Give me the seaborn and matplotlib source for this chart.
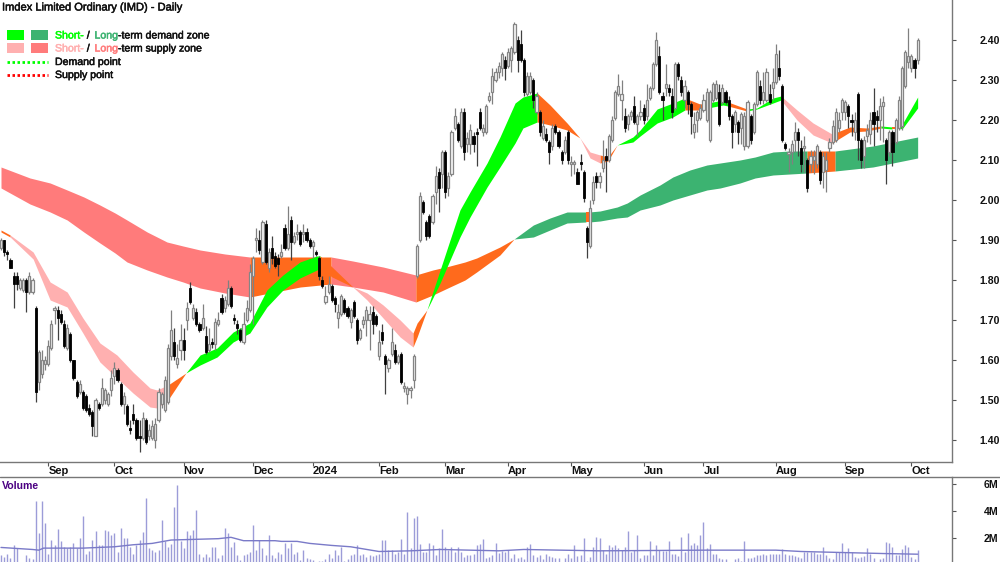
import numpy as np
import pandas as pd
import matplotlib
matplotlib.use("Agg")
import matplotlib.pyplot as plt
import matplotlib.patheffects as pe
from matplotlib.lines import Line2D
from matplotlib.patches import Rectangle
import seaborn as sns

month_labels = ["Sep", "Oct", "Nov", "Dec", "2024", "Feb", "Mar", "Apr", "May", "Jun", "Jul", "Aug", "Sep", "Oct"]
month_bars = [15, 36, 58, 80, 99, 120, 141, 161, 181, 204, 223, 246, 268, 289]
price_ticks = [1.40, 1.50, 1.60, 1.70, 1.80, 1.90, 2.00, 2.10, 2.20, 2.30, 2.40]
volume_ticks = [2, 4, 6]

opens = [1.88,1.90,1.87,1.85,1.81,1.81,1.78,1.775,1.80,1.77,
 1.77,1.73,1.545,1.565,1.59,1.59,1.63,1.725,1.725,1.715,
 1.69,1.63,1.665,1.60,1.545,1.52,1.52,1.51,1.48,1.47,
 1.41,1.49,1.49,1.50,1.49,1.525,1.56,1.575,1.54,1.49,
 1.485,1.43,1.465,1.45,1.41,1.405,1.45,1.41,1.405,1.40,
 1.45,1.49,1.475,1.495,1.61,1.645,1.59,1.625,1.65,1.70,
 1.78,1.705,1.72,1.69,1.68,1.66,1.625,1.645,1.64,1.69,
 1.755,1.73,1.74,1.78,1.705,1.69,1.675,1.645,1.70,1.725,
 1.81,1.90,1.90,1.845,1.94,1.83,1.88,1.86,1.855,1.86,
 1.93,1.88,1.95,1.895,1.915,1.92,1.915,1.92,1.90,1.885,
 1.87,1.855,1.80,1.745,1.77,1.785,1.755,1.705,1.715,1.75,
 1.73,1.695,1.745,1.70,1.655,1.69,1.70,1.70,1.72,1.71,
 1.61,1.67,1.61,1.58,1.615,1.625,1.595,1.615,1.53,1.515,
 1.525,1.55,1.81,1.90,1.995,1.945,1.96,1.945,2.02,2.07,
 2.065,2.12,2.03,2.065,2.18,2.19,2.135,2.22,2.14,2.14,
 2.16,2.17,2.22,2.17,2.17,2.25,2.27,2.30,2.32,2.33,
 2.35,2.335,2.35,2.37,2.40,2.39,2.35,2.265,2.27,2.30,
 2.22,2.22,2.155,2.165,2.145,2.135,2.185,2.17,2.12,2.12,
 2.17,2.09,2.09,2.07,2.095,2.07,1.93,1.885,2.00,2.06,
 2.045,2.08,2.11,2.10,2.15,2.205,2.265,2.25,2.21,2.19,
 2.21,2.235,2.19,2.21,2.23,2.21,2.255,2.28,2.34,2.36,
 2.26,2.28,2.28,2.26,2.23,2.34,2.30,2.25,2.27,2.24,
 2.17,2.20,2.205,2.225,2.20,2.15,2.25,2.255,2.27,2.245,
 2.27,2.25,2.21,2.19,2.195,2.18,2.135,2.135,2.21,2.17,
 2.24,2.285,2.25,2.25,2.265,2.28,2.295,2.33,2.285,2.14,
 2.115,2.12,2.15,2.17,2.13,2.13,2.10,2.09,2.10,2.09,
 2.12,2.07,2.075,2.13,2.145,2.15,2.18,2.22,2.22,2.235,
 2.20,2.17,2.265,2.15,2.11,2.16,2.165,2.22,2.21,2.20,
 2.235,2.15,2.12,2.17,2.145,2.18,2.185,2.285,2.345,2.33,2.35,2.35]
closes = [1.90,1.87,1.865,1.83,1.79,1.79,1.80,1.80,1.77,1.81,
 1.80,1.52,1.62,1.60,1.60,1.635,1.69,1.73,1.705,1.695,
 1.635,1.68,1.60,1.555,1.51,1.54,1.48,1.475,1.465,1.435,
 1.50,1.48,1.53,1.525,1.515,1.555,1.58,1.55,1.49,1.51,
 1.44,1.425,1.45,1.405,1.405,1.455,1.395,1.425,1.435,1.44,
 1.52,1.515,1.55,1.63,1.675,1.61,1.605,1.65,1.625,1.73,
 1.745,1.73,1.69,1.675,1.705,1.62,1.64,1.64,1.695,1.70,
 1.72,1.75,1.78,1.735,1.70,1.68,1.65,1.69,1.73,1.82,
 1.855,1.905,1.875,1.945,1.845,1.87,1.855,1.835,1.84,1.87,
 1.88,1.915,1.895,1.91,1.92,1.89,1.92,1.90,1.885,1.895,
 1.865,1.81,1.785,1.76,1.79,1.75,1.74,1.72,1.76,1.72,
 1.71,1.725,1.71,1.65,1.675,1.70,1.725,1.715,1.69,1.69,
 1.645,1.65,1.59,1.60,1.645,1.595,1.61,1.545,1.535,1.53,
 1.53,1.61,1.885,2.01,1.97,1.91,1.91,2.01,2.06,2.03,
 2.12,2.02,2.06,2.17,2.21,2.15,2.22,2.12,2.155,2.175,
 2.14,2.165,2.18,2.18,2.235,2.26,2.31,2.32,2.335,2.365,
 2.33,2.37,2.38,2.44,2.35,2.35,2.27,2.31,2.31,2.25,
 2.26,2.17,2.185,2.15,2.12,2.18,2.17,2.135,2.10,2.15,
 2.10,2.095,2.095,2.04,2.09,2.005,1.895,1.98,2.045,2.045,
 2.06,2.10,2.10,2.16,2.20,2.27,2.285,2.265,2.18,2.21,
 2.22,2.195,2.21,2.22,2.20,2.25,2.28,2.34,2.40,2.27,
 2.25,2.29,2.27,2.22,2.34,2.31,2.27,2.285,2.24,2.21,
 2.19,2.22,2.23,2.25,2.27,2.27,2.29,2.29,2.19,2.28,
 2.245,2.21,2.17,2.22,2.17,2.215,2.21,2.245,2.15,2.24,
 2.32,2.25,2.27,2.32,2.245,2.295,2.365,2.31,2.15,2.13,
 2.12,2.14,2.17,2.15,2.09,2.135,2.03,2.11,2.11,2.135,
 2.05,2.11,2.10,2.145,2.185,2.22,2.20,2.25,2.245,2.21,
 2.195,2.20,2.15,2.10,2.15,2.175,2.20,2.19,2.20,2.235,
 2.245,2.10,2.17,2.12,2.20,2.25,2.33,2.37,2.36,2.36,2.33,2.40]
highs = [1.905,1.90,1.875,1.855,1.82,1.82,1.805,1.805,1.805,1.82,
 1.805,1.735,1.625,1.625,1.61,1.65,1.70,1.735,1.735,1.725,
 1.70,1.69,1.67,1.60,1.55,1.55,1.525,1.515,1.49,1.475,
 1.505,1.495,1.555,1.53,1.52,1.575,1.595,1.58,1.545,1.52,
 1.49,1.45,1.49,1.455,1.45,1.47,1.455,1.44,1.45,1.455,
 1.53,1.52,1.56,1.64,1.725,1.68,1.64,1.69,1.68,1.745,
 1.795,1.74,1.73,1.695,1.74,1.685,1.68,1.655,1.705,1.72,
 1.765,1.76,1.80,1.785,1.715,1.70,1.68,1.72,1.75,1.84,
 1.86,1.93,1.925,1.95,1.95,1.88,1.91,1.87,1.865,1.89,
 1.94,1.985,1.96,1.92,1.94,1.925,1.94,1.93,1.905,1.90,
 1.875,1.86,1.81,1.785,1.81,1.79,1.76,1.74,1.765,1.755,
 1.735,1.73,1.75,1.705,1.68,1.71,1.735,1.735,1.735,1.715,
 1.675,1.69,1.615,1.605,1.68,1.64,1.615,1.62,1.545,1.535,
 1.535,1.615,1.89,2.02,2.00,1.95,1.965,2.015,2.085,2.08,
 2.125,2.125,2.07,2.175,2.23,2.195,2.23,2.23,2.17,2.19,
 2.17,2.18,2.23,2.19,2.24,2.27,2.33,2.33,2.345,2.37,
 2.36,2.38,2.385,2.445,2.41,2.425,2.355,2.32,2.32,2.305,
 2.27,2.225,2.20,2.18,2.15,2.19,2.19,2.175,2.125,2.16,
 2.175,2.11,2.10,2.08,2.115,2.075,1.935,2.00,2.06,2.07,
 2.07,2.15,2.13,2.165,2.21,2.275,2.315,2.30,2.23,2.215,
 2.225,2.26,2.215,2.25,2.24,2.29,2.285,2.345,2.42,2.385,
 2.27,2.34,2.29,2.28,2.345,2.345,2.31,2.30,2.275,2.245,
 2.22,2.225,2.24,2.265,2.28,2.275,2.295,2.30,2.29,2.29,
 2.275,2.26,2.215,2.225,2.20,2.22,2.22,2.25,2.215,2.245,
 2.325,2.30,2.32,2.33,2.29,2.33,2.39,2.375,2.29,2.145,
 2.13,2.15,2.195,2.18,2.15,2.16,2.105,2.125,2.125,2.14,
 2.125,2.12,2.12,2.155,2.20,2.23,2.22,2.255,2.25,2.24,
 2.215,2.22,2.27,2.155,2.16,2.19,2.22,2.28,2.225,2.255,
 2.26,2.155,2.175,2.175,2.205,2.26,2.335,2.375,2.43,2.365,2.355,2.405]
lows = [1.875,1.86,1.85,1.83,1.73,1.775,1.775,1.77,1.72,1.765,
 1.765,1.495,1.525,1.555,1.575,1.585,1.625,1.69,1.65,1.69,
 1.63,1.625,1.595,1.55,1.505,1.515,1.475,1.47,1.46,1.41,
 1.41,1.475,1.485,1.49,1.485,1.51,1.54,1.545,1.485,1.465,
 1.435,1.415,1.44,1.40,1.37,1.40,1.39,1.40,1.40,1.38,
 1.445,1.48,1.47,1.49,1.60,1.60,1.58,1.60,1.60,1.675,
 1.74,1.70,1.685,1.67,1.675,1.615,1.62,1.63,1.625,1.685,
 1.715,1.72,1.735,1.73,1.69,1.665,1.645,1.64,1.695,1.72,
 1.69,1.87,1.865,1.84,1.84,1.82,1.84,1.83,1.81,1.855,
 1.875,1.875,1.85,1.89,1.90,1.885,1.895,1.895,1.88,1.855,
 1.86,1.80,1.78,1.74,1.765,1.745,1.72,1.68,1.71,1.715,
 1.705,1.68,1.705,1.64,1.65,1.68,1.66,1.625,1.665,1.685,
 1.60,1.64,1.515,1.57,1.61,1.59,1.59,1.54,1.52,1.49,
 1.505,1.53,1.805,1.895,1.965,1.90,1.905,1.94,1.99,1.97,
 2.03,2.005,2.01,2.06,2.175,2.145,2.13,2.10,2.12,2.115,
 2.12,2.085,2.175,2.16,2.165,2.245,2.24,2.295,2.305,2.31,
 2.30,2.33,2.32,2.365,2.32,2.345,2.26,2.26,2.265,2.23,
 2.215,2.16,2.15,2.145,2.09,2.125,2.165,2.13,2.09,2.115,
 2.09,2.06,2.065,2.04,2.075,1.995,1.855,1.88,1.99,2.03,
 2.03,2.07,2.02,2.095,2.145,2.20,2.26,2.20,2.17,2.175,
 2.20,2.19,2.16,2.20,2.19,2.20,2.25,2.275,2.335,2.265,
 2.20,2.26,2.26,2.205,2.225,2.30,2.26,2.23,2.215,2.165,
 2.155,2.17,2.20,2.22,2.195,2.145,2.245,2.25,2.185,2.24,
 2.24,2.20,2.13,2.17,2.14,2.14,2.125,2.13,2.14,2.165,
 2.235,2.24,2.24,2.245,2.24,2.25,2.29,2.30,2.145,2.125,
 2.07,2.09,2.12,2.11,2.07,2.07,2.02,2.07,2.065,2.08,
 2.04,2.03,2.02,2.12,2.14,2.145,2.17,2.20,2.20,2.18,
 2.16,2.15,2.10,2.08,2.08,2.145,2.14,2.135,2.17,2.15,
 2.145,2.04,2.11,2.085,2.14,2.175,2.175,2.28,2.33,2.32,2.305,2.34]
volumes = [0.75,0.6,0.85,0.5,1.5,1.25,0.2,0.2,0.75,0.5,
 0.45,4.75,2.35,4.75,3.1,0.85,1.85,1.5,2.65,1.75,
 1.35,1.25,1.35,1.6,1.25,2.0,3.6,0.85,1.05,1.85,
 2.5,1.5,1.5,2.6,2.5,2.2,2.35,1.0,2.75,2.0,
 2.0,1.35,0.85,1.5,1.85,2.45,4.95,1.25,1.1,1.0,
 1.1,3.35,1.8,1.35,1.55,4.3,5.95,1.75,1.25,2.5,
 2.2,2.6,4.05,0.85,0.6,0.8,0.6,1.3,1.35,0.5,
 0.75,2.75,2.4,1.35,1.7,0.75,0.35,0.75,0.8,0.95,
 3.0,1.1,1.85,1.25,0.75,2.25,0.75,0.5,0.95,0.8,
 1.6,1.25,1.6,0.85,1.0,0.35,1.1,0.5,0.45,0.35,
 0.25,0.3,0.3,0.45,0.8,0.5,1.1,0.75,1.35,0.3,
 0.45,0.75,0.85,1.5,0.75,0.8,0.6,0.75,0.7,0.75,
 0.85,1.85,1.85,1.1,1.1,0.85,1.0,1.9,0.85,3.95,
 1.25,3.5,3.6,1.55,1.0,1.0,1.6,1.45,0.75,1.25,
 2.65,1.35,1.1,1.3,1.0,1.35,1.0,0.6,0.75,0.75,
 0.8,1.45,1.55,1.9,0.5,0.6,0.75,1.6,0.9,1.05,
 1.0,1.1,0.5,0.8,0.5,0.6,0.45,1.35,1.55,0.75,
 0.6,0.75,0.45,0.8,0.7,0.6,0.55,0.5,0.25,0.5,
 0.8,0.5,1.5,0.7,0.75,2.0,0.3,0.6,1.35,2.1,
 2.0,1.1,0.85,1.45,1.35,1.45,1.25,1.1,1.35,2.5,
 1.0,1.1,2.2,0.5,0.75,0.75,1.8,0.75,1.5,1.1,
 1.05,1.05,1.8,0.85,0.8,0.7,2.05,1.0,2.35,1.45,
 1.6,1.5,2.2,3.15,1.25,1.55,0.85,0.8,0.55,0.45,
 0.45,0.25,0.25,0.45,0.5,0.3,1.8,0.55,0.55,0.6,
 0.75,0.75,0.8,0.75,0.85,0.85,0.8,0.85,1.2,0.85,
 0.75,0.75,0.7,0.6,0.5,0.95,0.95,0.95,1.0,0.85,
 0.85,1.3,0.75,0.5,0.45,0.95,0.95,1.65,1.0,1.25,
 0.95,0.6,0.5,0.6,0.7,1.25,0.85,0.5,0.25,0.45,
 0.55,1.7,1.6,1.3,0.75,0.75,1.2,1.5,1.35,0.6,0.45,1.1]
volume_avg_bar = [0,10,12,13.5,26,36,42,48,54,69,73,77,87,89,94,98,105,111,120,130,139.5,158,
                  166,177.6,190,224,246,254,280,291]
volume_avg = [1.3,1.15,1.1,1.25,1.25,1.35,1.5,1.6,1.85,1.95,2.05,1.8,1.8,1.75,1.75,1.6,1.45,1.35,1.0,1.05,1.15,1.05,
              1.15,1.1,1.05,1.1,1.1,1.0,0.85,0.8]

long_bar = [0,9.2,15.6,21,26.3,31.4,36.2,40,46.4,52.7,57.8,63.2,71.1,79,87,95,104.8,111.7,121.3,131.7,137.1,142.5,147.3,151,158.4,162.9,
            169,174.3,179.7,185.7,186.7,190.2,195.6,198.8,202.9,209.2,213.3,218.7,224.1,228.3,234.6,239.4,245.1,250.5,255.9,264.8,276.8,291]
long_y_top = [167,178,183,190,197,205,213,220,232,242,246,250,254,257,257,257,257,261,267,275,270,266,262,258,247,239,
              225,218,212,212,212,211,207,203,195,185,177,170,165,163,160,157,152,151,151,151,146,137]
long_y_bottom = [188,204,212,220,232,243,253,262,270,277,282,288,293,297,292,287,284,287,292,302,295,287,280,272,255,239,
                 237,230,223,222,222,221,218,217,210,205,200,195,190,188,183,178,175,174,173,171,167,158]
long_top = [round(2.5 - v / 400, 4) for v in long_y_top]
long_bottom = [round(2.5 - v / 400, 4) for v in long_y_bottom]
long_states = [(0,79,"supply"),(79,104.8,"mixed"),(104.8,131.7,"supply"),(131.7,162.9,"mixed"),(162.9,185.7,"demand"),
               (185.7,186.7,"mixed"),(186.7,255.9,"demand"),(255.9,264.8,"mixed"),(264.8,291,"demand")]

short_bar = [0,2.9,10.2,15.6,21,26,31.4,36.8,41.9,47.3,49.5,53,58.7,63.2,68.6,73.7,79,84.4,89.5,94.9,100.3,101.3,105.1,
             111.7,116.2,121.3,126.7,130.8,132.1,135.2,139.4,145.7,148.9,154.3,158.4,163.2,165.7,170.2,174.3,179.7,183.8,
             187,190.2,192.7,195.6,200.6,202.9,208.3,213.3,217.1,221.9,224.4,229.2,230.8,236.8,240,245.1,247.6,252.7,
             257.8,263.8,269.5,274.9,279.4,282.9,285.4,286.3,291]
short_y_top = [230,235,252,282,292,318,343,355,372,388,390,385,373,355,348,332,323,290,275,262,256,256,267,
               287,293,305,320,333,323,310,270,210,192,163,137,103,97,93,105,123,138,
               152,155,157,145,137,130,109,103,98,104,103,100,102,109,108,98,96,110,
               123,134,127,128,126,127,127,123,97]
short_y_bottom = [232,237,259,300,307,333,362,378,393,407,408,400,373,365,357,342,333,307,290,278,270,268,277,
                  287,300,318,337,347,337,310,283,237,217,187,167,143,128,122,125,130,138,
                  158,163,161,145,142,136,123,117,110,110,108,105,106,111,109,103,100,120,
                  135,143,132,131,128,129,129,128,108]
short_top = [round(2.5 - v / 400, 4) for v in short_y_top]
short_bottom = [round(2.5 - v / 400, 4) for v in short_y_bottom]
short_states = [(0,2.9,"mixed"),(2.9,53,"supply"),(53,58.7,"mixed"),(58.7,101.3,"demand"),(101.3,111.7,"mixed"),
                (111.7,130.8,"supply"),(130.8,135.2,"mixed"),(135.2,170.2,"demand"),(170.2,183.8,"mixed"),
                (183.8,190.2,"supply"),(190.2,195.6,"mixed"),(195.6,217.1,"demand"),(217.1,224.4,"mixed"),
                (224.4,230.8,"demand"),(230.8,236.8,"mixed"),(236.8,247.6,"demand"),(247.6,263.8,"supply"),
                (263.8,279.4,"mixed"),(279.4,282.9,"demand"),(282.9,285.4,"mixed"),(285.4,291,"demand")]

n = min(len(opens), len(closes), len(highs), len(lows), len(volumes))

sns.set_theme(style="white")
FONT = "Liberation Sans"
plt.rcParams["font.family"] = FONT

ORANGE = "#ff6a1c"
LONG_COL = {"supply": "#ff7b7b", "demand": "#3cb371", "mixed": ORANGE}
SHORT_COL = {"supply": "#ffb0b0", "demand": "#00ff00", "mixed": ORANGE}

W, H = 1000, 562
fig = plt.figure(figsize=(W / 100, H / 100), dpi=100, facecolor="white")
ax = fig.add_axes([0, 1 - 462 / H, 952 / W, 462 / H])
axv = fig.add_axes([0, 0, 952 / W, 85 / H])

bars = pd.DataFrame({"bar": np.arange(n), "open": opens[:n], "close": closes[:n], "high": highs[:n], "low": lows[:n], "volume": volumes[:n]})
bars["up"] = bars["close"] >= bars["open"]

def draw_band(x, top, bottom, states, colors, z):
    x, top, bottom = np.array(x), np.array(top), np.array(bottom)
    for a, b, state in states:
        m = (x >= a) & (x <= b)
        ax.fill_between(x[m], bottom[m], top[m], color=colors[state], lw=0, zorder=z)

draw_band(long_bar, long_top, long_bottom, long_states, LONG_COL, 1)
draw_band(short_bar, short_top, short_bottom, short_states, SHORT_COL, 2)

up = bars[bars["up"]]
down = bars[~bars["up"]]
ax.vlines(up["bar"], up["low"], up["high"], color="#808080", lw=0.9, zorder=3)
ax.vlines(down["bar"], down["low"], down["high"], color="#404040", lw=0.9, zorder=3)
ax.bar(up["bar"], (up["close"] - up["open"]).clip(lower=0.004), bottom=up["open"], width=0.68,
       facecolor="#f4f4f4", edgecolor="#858585", linewidth=0.9, zorder=4)
ax.bar(down["bar"], (down["open"] - down["close"]).clip(lower=0.004), bottom=down["close"], width=0.68,
       facecolor="black", edgecolor="black", linewidth=0.6, zorder=4)

xlim = (-1 / 3.15, 951 / 3.15)
ax.set_xlim(*xlim)
ax.set_ylim(2.5 - 462 / 400, 2.5)
ax.yaxis.tick_right()
ax.set_yticks(price_ticks)
ax.set_yticklabels([f"{v:.2f}" for v in price_ticks], fontweight="bold", fontsize=7.6, color="#111111")
ax.tick_params(axis="y", length=3, width=0.8, color="#555555", pad=17, right=True)
ax.set_xticks(month_bars)
ax.set_xticklabels(month_labels, fontweight="bold", fontsize=8, color="#111111", ha="left")
ax.tick_params(axis="x", length=3, width=0.8, color="#555555", pad=0, bottom=True, direction="out")
for sp in ["top", "left"]:
    ax.spines[sp].set_visible(False)
for sp in ["right", "bottom"]:
    ax.spines[sp].set_color("#777777")
    ax.spines[sp].set_linewidth(1.0)

axv.vlines(bars["bar"], 0, bars["volume"], color="#9c9cd8", lw=1.0, zorder=2)
sns.lineplot(x=volume_avg_bar, y=volume_avg, ax=axv, color="#7a7ac8", lw=1.0, zorder=3, errorbar=None)
axv.set_xlim(*xlim)
axv.set_ylim((565 - 562) / 13.5, (565 - 477) / 13.5)
axv.set_xticks([])
axv.yaxis.tick_right()
axv.set_yticks(volume_ticks)
axv.set_yticklabels([f"{v}M" for v in volume_ticks], fontweight="bold", fontsize=7.6, color="#111111")
axv.tick_params(axis="y", length=3, width=0.8, color="#555555", pad=20, right=True)
for sp in ["top", "left", "bottom"]:
    axv.spines[sp].set_visible(False)
axv.spines["right"].set_color("#777777")
axv.spines["right"].set_linewidth(1.0)

fig.add_artist(Line2D([0, 1], [1 - 477 / H] * 2, color="#777777", lw=1.0, transform=fig.transFigure))
def px(x, y):
    return x / W, 1 - y / H

stroke = [pe.withStroke(linewidth=0.35, foreground="#111111")]
fig.text(*px(2, 7.5), "Imdex Limited Ordinary (IMD) - Daily", fontsize=8, color="#111111", va="center", path_effects=stroke)
fig.text(*px(2, 486), "Volume", fontsize=7.6, fontweight="bold", color="#4b0082", va="center")

for x, y, c in [(7, 30, "#00ff00"), (31, 30, "#3cb371"), (7, 43, "#ffb0b0"), (31, 43, "#ff7b7b")]:
    fig.add_artist(Rectangle(px(x, y + 10), 17 / W, 10 / H, facecolor=c, edgecolor="none", transform=fig.transFigure))
fig.add_artist(Line2D([7 / W, 48 / W], [1 - 62 / H] * 2, color="#00ff00", lw=2, ls=(0, (0.9, 0.9)), transform=fig.transFigure))
fig.add_artist(Line2D([7 / W, 48 / W], [1 - 74.5 / H] * 2, color="#ff0000", lw=2, ls=(0, (0.9, 0.9)), transform=fig.transFigure))

renderer = fig.canvas.get_renderer()
def chain(x, y, parts):
    for s, c in parts:
        t = fig.text(*px(x, y), s, fontsize=7.6, color=c, va="center",
                     path_effects=[pe.withStroke(linewidth=0.35, foreground=c)])
        x = t.get_window_extent(renderer).x1 + (2.0 if s.endswith(" ") else 0)

chain(55, 35.5, [("Short-", "#00ff00"), (" / ", "#111111"), ("Long", "#3cb371"), ("-term demand zone", "#111111")])
chain(55, 48.5, [("Short-", "#ffb0b0"), (" / ", "#111111"), ("Long", "#ff7b7b"), ("-term supply zone", "#111111")])
chain(55, 62, [("Demand point", "#111111")])
chain(55, 75, [("Supply point", "#111111")])

fig.savefig("out.png", dpi=100)
